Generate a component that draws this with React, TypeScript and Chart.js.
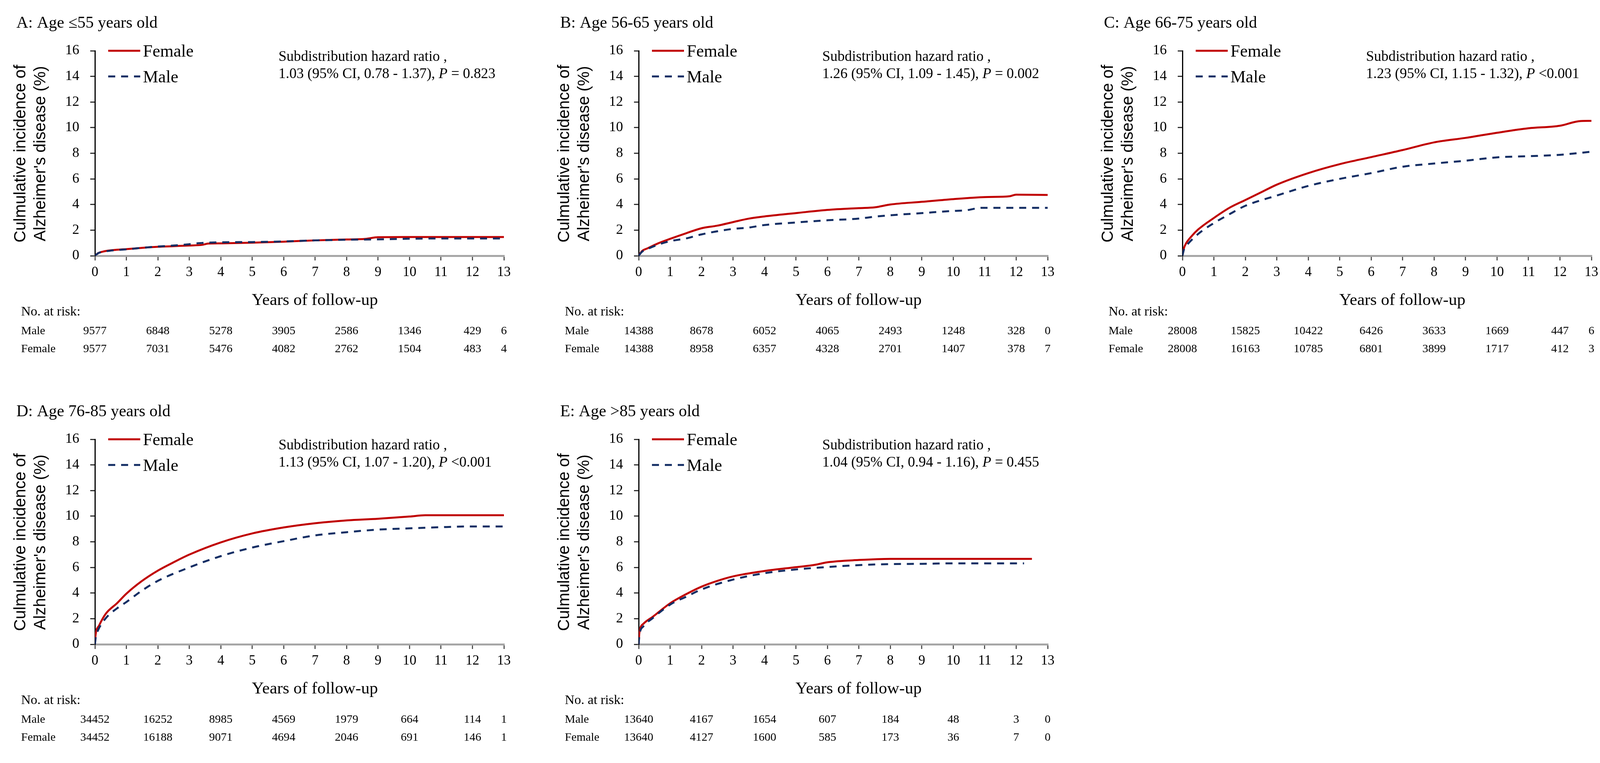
import React, { useEffect, useRef } from 'react';
import { Chart, registerables } from 'chart.js';

Chart.register(...registerables);

// ---------------- data ----------------
const panelTitles = [
  'A: Age \u226455 years old',
  'B: Age 56-65 years old',
  'C: Age 66-75 years old',
  'D: Age 76-85 years old',
  'E: Age >85 years old',
];

const hrCi = [
  '1.03 (95% CI, 0.78 - 1.37), ',
  '1.26 (95% CI, 1.09 - 1.45), ',
  '1.23 (95% CI, 1.15 - 1.32), ',
  '1.13 (95% CI, 1.07 - 1.20), ',
  '1.04 (95% CI, 0.94 - 1.16), ',
];
const hrP = [' = 0.823', ' = 0.002', ' <0.001', ' <0.001', ' = 0.455'];

const xTickValues = [0, 1, 2, 3, 4, 5, 6, 7, 8, 9, 10, 11, 12, 13];
const yTickValues = [0, 2, 4, 6, 8, 10, 12, 14, 16];
const riskYears = [0, 2, 4, 6, 8, 10, 12, 13];

const femaleA = [[0, 0], [0.1, 0.2], [0.3, 0.35], [0.6, 0.45], [1, 0.52], [1.5, 0.62], [2, 0.7], [2.5, 0.75], [3, 0.8], [3.4, 0.85], [3.6, 0.95], [4, 0.97], [5, 1.02], [6, 1.1], [7, 1.2], [8, 1.27], [8.6, 1.32], [9, 1.45], [10, 1.46], [13, 1.46]];
const maleA = [[0, 0], [0.1, 0.2], [0.3, 0.33], [0.6, 0.43], [1, 0.5], [1.5, 0.62], [2, 0.72], [2.5, 0.8], [3, 0.9], [3.3, 0.98], [4, 1.05], [5, 1.07], [6, 1.12], [7, 1.2], [8, 1.25], [9, 1.28], [10, 1.33], [11, 1.35], [13, 1.35]];

const femaleB = [[0, 0], [0.1, 0.35], [0.3, 0.6], [0.6, 0.95], [1, 1.32], [1.5, 1.75], [2, 2.15], [2.5, 2.35], [3, 2.63], [3.5, 2.9], [4, 3.07], [5, 3.33], [6, 3.58], [7, 3.72], [7.5, 3.78], [8, 4.0], [9, 4.21], [10, 4.42], [11, 4.58], [11.8, 4.65], [12, 4.77], [13, 4.75]];
const maleB = [[0, 0], [0.1, 0.3], [0.3, 0.55], [0.6, 0.85], [1, 1.14], [1.5, 1.35], [2, 1.67], [3, 2.1], [3.5, 2.2], [4, 2.4], [5, 2.6], [6, 2.77], [7, 2.9], [7.5, 3.05], [8, 3.16], [9, 3.33], [10, 3.5], [10.4, 3.55], [10.9, 3.74], [13, 3.74]];

const femaleC = [[0, 0], [0.05, 0.6], [0.1, 0.9], [0.3, 1.55], [0.5, 2.05], [1, 2.95], [1.5, 3.75], [2, 4.35], [2.5, 4.95], [3, 5.55], [4, 6.45], [5, 7.15], [6, 7.7], [7, 8.25], [8, 8.85], [9, 9.2], [10, 9.6], [11, 9.95], [12, 10.15], [12.6, 10.5], [13, 10.53]];
const maleC = [[0, 0], [0.05, 0.5], [0.1, 0.7], [0.5, 1.7], [1, 2.55], [1.5, 3.25], [2, 3.9], [3, 4.7], [4, 5.45], [5, 6.0], [6, 6.45], [7, 6.95], [8, 7.2], [9, 7.42], [10, 7.68], [11, 7.77], [12, 7.88], [13, 8.12]];

const femaleD = [[0, 0], [0.02, 0.7], [0.13, 1.45], [0.35, 2.4], [0.7, 3.2], [1, 3.95], [1.5, 4.95], [2, 5.75], [2.5, 6.4], [3, 7.0], [4, 7.95], [5, 8.65], [6, 9.12], [7, 9.45], [8, 9.67], [9, 9.8], [10, 9.97], [10.5, 10.07], [13, 10.07]];
const maleD = [[0, 0], [0.03, 0.6], [0.1, 1.1], [0.35, 2.05], [0.7, 2.8], [1, 3.3], [1.5, 4.2], [2, 4.95], [3, 6.0], [4, 6.88], [5, 7.55], [6, 8.05], [7, 8.5], [8, 8.75], [9, 8.95], [10, 9.05], [11, 9.14], [12, 9.2], [13, 9.2]];

const femaleE = [[0, 0], [0.02, 0.85], [0.15, 1.6], [0.45, 2.15], [1, 3.2], [1.5, 3.9], [2, 4.5], [2.5, 4.95], [3, 5.3], [4, 5.72], [5, 6.02], [5.6, 6.2], [6, 6.4], [7, 6.58], [8, 6.67], [12.5, 6.67]];
const maleE = [[0, 0], [0.02, 0.65], [0.15, 1.4], [0.45, 2.05], [1, 3.1], [1.5, 3.7], [2, 4.28], [3, 5.05], [4, 5.55], [5, 5.84], [6, 6.03], [7, 6.18], [8, 6.26], [9, 6.28], [10, 6.32], [12.25, 6.32]];

const maleRiskA = [9577, 6848, 5278, 3905, 2586, 1346, 429, 6];
const femaleRiskA = [9577, 7031, 5476, 4082, 2762, 1504, 483, 4];
const maleRiskB = [14388, 8678, 6052, 4065, 2493, 1248, 328, 0];
const femaleRiskB = [14388, 8958, 6357, 4328, 2701, 1407, 378, 7];
const maleRiskC = [28008, 15825, 10422, 6426, 3633, 1669, 447, 6];
const femaleRiskC = [28008, 16163, 10785, 6801, 3899, 1717, 412, 3];
const maleRiskD = [34452, 16252, 8985, 4569, 1979, 664, 114, 1];
const femaleRiskD = [34452, 16188, 9071, 4694, 2046, 691, 146, 1];
const maleRiskE = [13640, 4167, 1654, 607, 184, 48, 3, 0];
const femaleRiskE = [13640, 4127, 1600, 585, 173, 36, 7, 0];

const femaleSeries = [femaleA, femaleB, femaleC, femaleD, femaleE];
const maleSeries = [maleA, maleB, maleC, maleD, maleE];
const maleRisk = [maleRiskA, maleRiskB, maleRiskC, maleRiskD, maleRiskE];
const femaleRisk = [femaleRiskA, femaleRiskB, femaleRiskC, femaleRiskD, femaleRiskE];

// ---------------- style ----------------
const RED = '#c00000';
const NAVY = '#142e64';
const SERIF = '"Liberation Serif", "Times New Roman", serif';
const SANS = '"Liberation Sans", Arial, sans-serif';
const CW = 1354;
const CH = 955;
const COL_STEP = 1392;
const ROW_STEP = 995;

function extrasPlugin(idx: number) {
  return {
    id: 'extras' + idx,
    afterDraw(chart: any) {
      const ctx = chart.ctx as CanvasRenderingContext2D;
      const { left, top, bottom } = chart.chartArea;
      const xs = chart.scales.x;
      const ys = chart.scales.y;
      ctx.save();
      ctx.fillStyle = '#000';
      ctx.textBaseline = 'alphabetic';

      // title
      ctx.font = `42px ${SERIF}`;
      ctx.textAlign = 'left';
      ctx.fillText(panelTitles[idx], left - 201, top - 59);

      // y axis title (rotated)
      const cy = (top + bottom) / 2 + 1;
      ctx.font = `42px ${SANS}`;
      ctx.textAlign = 'center';
      ctx.save();
      ctx.translate(left - 178, cy);
      ctx.rotate(-Math.PI / 2);
      ctx.fillText('Culmulative incidence of', 0, 0);
      ctx.restore();
      ctx.save();
      ctx.translate(left - 127, cy);
      ctx.rotate(-Math.PI / 2);
      ctx.fillText("Alzheimer's disease (%)", 0, 0);
      ctx.restore();

      // legend
      const yF = ys.getPixelForValue(16);
      const yM = ys.getPixelForValue(14);
      ctx.lineWidth = 5;
      ctx.strokeStyle = RED;
      ctx.setLineDash([]);
      ctx.beginPath();
      ctx.moveTo(left + 34, yF);
      ctx.lineTo(left + 116, yF);
      ctx.stroke();
      ctx.strokeStyle = NAVY;
      ctx.setLineDash([18, 15]);
      ctx.beginPath();
      ctx.moveTo(left + 34, yM);
      ctx.lineTo(left + 116, yM);
      ctx.stroke();
      ctx.setLineDash([]);
      ctx.font = `44px ${SERIF}`;
      ctx.textAlign = 'left';
      ctx.fillText('Female', left + 123, yF + 15);
      ctx.fillText('Male', left + 123, yM + 15);

      // hazard ratio annotation
      const ax = left + 470;
      ctx.font = `37px ${SERIF}`;
      ctx.fillText('Subdistribution hazard ratio ,', ax, top + 26);
      let px = ax;
      ctx.fillText(hrCi[idx], px, top + 70);
      px += ctx.measureText(hrCi[idx]).width;
      ctx.font = `italic 37px ${SERIF}`;
      ctx.fillText('P', px, top + 70);
      px += ctx.measureText('P').width;
      ctx.font = `37px ${SERIF}`;
      ctx.fillText(hrP[idx], px, top + 70);

      // x axis title
      ctx.font = `43px ${SERIF}`;
      ctx.textAlign = 'center';
      ctx.fillText('Years of follow-up', left + 563, bottom + 126);

      // number at risk
      ctx.textAlign = 'left';
      ctx.font = `34px ${SERIF}`;
      ctx.fillText('No. at risk:', left - 189, bottom + 153);
      ctx.font = `30px ${SERIF}`;
      ctx.fillText('Male', left - 189, bottom + 201);
      ctx.fillText('Female', left - 189, bottom + 247);
      ctx.textAlign = 'center';
      riskYears.forEach((yr, i) => {
        const x = xs.getPixelForValue(yr);
        ctx.fillText(String(maleRisk[idx][i]), x, bottom + 201);
        ctx.fillText(String(femaleRisk[idx][i]), x, bottom + 247);
      });
      ctx.restore();
    },
  };
}

function Panel({ idx }: { idx: number }) {
  const ref = useRef<HTMLCanvasElement>(null);
  useEffect(() => {
    if (!ref.current) return;
    const chart = new Chart(ref.current, {
      type: 'line',
      data: {
        datasets: [
          {
            label: 'Female',
            data: femaleSeries[idx].map(([x, y]) => ({ x, y })),
            borderColor: RED,
            borderWidth: 5,
            pointRadius: 0,
            cubicInterpolationMode: 'monotone',
            fill: false,
            order: 2,
          },
          {
            label: 'Male',
            data: maleSeries[idx].map(([x, y]) => ({ x, y })),
            borderColor: NAVY,
            borderWidth: 5,
            borderDash: [18, 15],
            pointRadius: 0,
            cubicInterpolationMode: 'monotone',
            fill: false,
            order: 1,
          },
        ],
      },
      options: {
        animation: false,
        responsive: false,
        devicePixelRatio: 1,
        layout: { padding: { left: 143, top: 130, right: 64, bottom: 240 } },
        plugins: { legend: { display: false }, tooltip: { enabled: false } },
        scales: {
          x: {
            type: 'linear',
            min: 0,
            max: 13,
            afterFit: (s: any) => { s.height = 60; },
            afterBuildTicks: (s: any) => { s.ticks = xTickValues.map((v) => ({ value: v })); },
            border: { color: '#a6a6a6', width: 5 },
            grid: { drawOnChartArea: false, drawTicks: true, tickLength: 12, color: '#555', lineWidth: 3 },
            ticks: {
              font: { family: SERIF, size: 35 },
              color: '#000',
              padding: 10,
              maxRotation: 0,
              autoSkip: false,
            },
          },
          y: {
            type: 'linear',
            min: 0,
            max: 16,
            afterFit: (s: any) => { s.width = 100; },
            afterBuildTicks: (s: any) => { s.ticks = yTickValues.map((v) => ({ value: v })); },
            border: { color: '#000', width: 3 },
            grid: { drawOnChartArea: false, drawTicks: true, tickLength: 12, color: '#333', lineWidth: 3 },
            ticks: {
              font: { family: SERIF, size: 36 },
              color: '#000',
              padding: 28,
            },
          },
        },
      } as any,
      plugins: [extrasPlugin(idx)],
    });
    return () => chart.destroy();
  }, [idx]);
  const col = idx % 3;
  const row = Math.floor(idx / 3);
  return (
    <canvas
      ref={ref}
      width={CW}
      height={CH}
      style={{ position: 'absolute', left: col * COL_STEP, top: row * ROW_STEP, width: CW, height: CH }}
    />
  );
}

export default function App() {
  return (
    <div style={{ position: 'fixed', left: 0, top: 0, width: 4138, height: 1954, background: '#fff', overflow: 'hidden' }}>
      {[0, 1, 2, 3, 4].map((i) => (
        <Panel key={i} idx={i} />
      ))}
    </div>
  );
}
